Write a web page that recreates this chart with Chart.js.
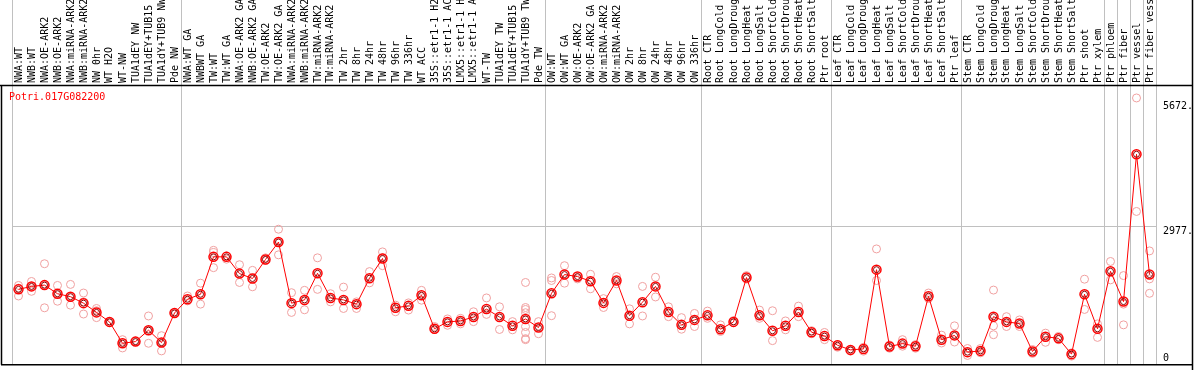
<!DOCTYPE html>
<html>
<head>
<meta charset="utf-8">
<script src="https://cdn.jsdelivr.net/npm/chart.js@4.4.1/dist/chart.umd.min.js"></script>
<style>
html,body{margin:0;padding:0;background:#fff;}
#wrap{width:1194px;height:370px;}
</style>
</head>
<body>
<div id="wrap"><canvas id="c" width="1194" height="370"></canvas></div>
<script>
const geneId = "Potri.017G082200";

const categories = [
  "NWA:WT","NWB:WT","NWA:OE-ARK2","NWB:OE-ARK2","NWA:miRNA-ARK2","NWB:miRNA-ARK2","NW 0hr","WT H2O","WT-NW","TUA1dEY NW","TUA1dEY+TUB15 NW","TUA1dY+TUB9 NW","Pde NW",
  "NWA:WT GA","NWBWT GA","TW:WT","TW:WT GA","NWA:OE-ARK2 GA","NWB:OE-ARK2 GA","TW:OE-ARK2","TW:OE-ARK2 GA","NWA:miRNA-ARK2 GA","NWB:miRNA-ARK2 GA","TW:miRNA-ARK2","TW:miRNA-ARK2 GA","TW 2hr","TW 8hr","TW 24hr","TW 48hr","TW 96hr","TW 336hr","WT ACC","35S::etr1-1 H2O","35S::etr1-1 ACC","LMX5::etr1-1 H2O","LMX5::etr1-1 ACC","WT-TW","TUA1dEY TW","TUA1dEY+TUB15 TW","TUA1dY+TUB9 TW","Pde TW",
  "OW:WT","OW:WT GA","OW:OE-ARK2","OW:OE-ARK2 GA","OW:miRNA-ARK2","OW:miRNA-ARK2 GA","OW 2hr","OW 8hr","OW 24hr","OW 48hr","OW 96hr","OW 336hr",
  "Root CTR","Root LongCold","Root LongDrought","Root LongHeat","Root LongSalt","Root ShortCold","Root ShortDrought","Root ShortHeat","Root ShortSalt","Ptr root",
  "Leaf CTR","Leaf LongCold","Leaf LongDrought","Leaf LongHeat","Leaf LongSalt","Leaf ShortCold","Leaf ShortDrought","Leaf ShortHeat","Leaf ShortSalt","Ptr leaf",
  "Stem CTR","Stem LongCold","Stem LongDrought","Stem LongHeat","Stem LongSalt","Stem ShortCold","Stem ShortDrought","Stem ShortHeat","Stem ShortSalt","Ptr shoot","Ptr xylem",
  "Ptr phloem","Ptr fiber","Ptr vessel","Ptr fiber vessel"
];

// index of first category of each group (last entry = total count)
const groupStarts = [0, 13, 41, 53, 63, 73, 84, 85, 86, 87, 88];

const meanValues = [
  1613,1677,1705,1519,1455,1315,1115,910,448,484,731,462,1102,
  1400,1507,2316,2316,1954,1848,2259,2636,1315,1385,1961,1428,1385,1294,1854,2280,1215,1257,1485,761,910,931,1016,1187,1016,825,974,788,
  1528,1933,1890,1790,1321,1805,1044,1336,1677,1123,846,953,
  1051,752,910,1869,1051,718,825,1123,688,603,
  405,305,326,2039,377,441,384,1464,526,618,
  256,283,1023,910,874,271,590,554,213,1507,761,
  2003,1349,4533,1933
];

const replicateValues = [
  [1698,1470,1640],[1784,1571,1680],[2167,1215,1705],[1698,1357,1519],[1720,1272,1455],[1534,1343,1080],[1200,1151,1002],[920,900],[526,347,460],[495,478],[1038,448,720],[612,469,283],[1100,1108],
  [1470,1364],[1747,1294],[2457,2408,2082],[2337,2265],[2146,1762],[2024,1669],[2295,2240],[2913,2359,2630],[1541,1115],[1592,1172],[2295,1613],[1519,1343],[1662,1200],[1343,1200],[1997,1754],[2423,2125,2300],[1272,1129],[1321,1166],[1592,1379],[810,746],[974,837],[987,867],[1129,916],[1428,1072],[1236,746],[916,739],[1762,1221,1179,1108,810,682,548,526],[916,654],
  [1860,1805,1044],[2125,1747],[1860,1839],[1939,1626],[1413,1221],[1890,1733],[1193,867],[1677,1038],[1875,1449],[1236,1023],[1002,752],[1093,810],
  [1144,987],[846,703],[938,895],[1911,1833],[1166,987],[1151,505],[931,739],[1251,1023],[654,720],[682,526],
  [420,362],[313,277],[362,277],[2487,1805],[411,341],[526,384],[420,341],[1534,1413],[624,454],[825,475],
  [335,185],[335,241],[1598,825,633],[1023,810],[952,810],[313,228],[667,469],[597,526],[241,170],[1833,1179],[867,575],
  [2216,1818],[1911,1294,846],[5750,3297],[2444,1839,1528]
];

const yTickValues = [0, 2977, 5672];
const yTickLabels = ["0", "2977.", "5672."];
const yMax = 6030;

const FONT = "DejaVu Sans Mono";

const meanPoints = meanValues.map((v, i) => ({x: i, y: v}));
const repPoints = [];
replicateValues.forEach((arr, i) => arr.forEach(v => repPoints.push({x: i, y: v})));

const decorPlugin = {
  id: 'decor',
  beforeDatasetsDraw(chart) {
    const {ctx, chartArea, scales} = chart;
    const xs = scales.x;
    ctx.save();
    // group separators (through label area)
    ctx.strokeStyle = '#c0c0c0';
    ctx.lineWidth = 1;
    groupStarts.forEach(b => {
      const px = Math.round(xs.getPixelForValue(b - 0.5)) + 0.5;
      ctx.beginPath();
      ctx.moveTo(px, 0);
      ctx.lineTo(px, chartArea.bottom);
      ctx.stroke();
    });
    // category labels (rotated, reading upward)
    ctx.fillStyle = '#000';
    ctx.font = '10px "' + FONT + '"';
    ctx.textAlign = 'left';
    ctx.textBaseline = 'middle';
    categories.forEach((lab, i) => {
      const px = Math.round(xs.getPixelForValue(i));
      ctx.save();
      ctx.translate(px, chartArea.top - 2);
      ctx.rotate(-Math.PI / 2);
      ctx.fillText(lab, 0, 0);
      ctx.restore();
    });
    ctx.restore();
  },
  afterDraw(chart) {
    const {ctx, chartArea, scales, width, height} = chart;
    const ys = scales.y;
    ctx.save();
    // frame
    ctx.strokeStyle = '#000';
    ctx.lineWidth = 1.5;
    ctx.beginPath();
    ctx.moveTo(0, chartArea.top + 0.5);
    ctx.lineTo(width - 1.5, chartArea.top + 0.5);
    ctx.moveTo(1.5, chartArea.top);
    ctx.lineTo(1.5, chartArea.bottom + 0.75);
    ctx.moveTo(1, chartArea.bottom + 0.75);
    ctx.lineTo(width - 1, chartArea.bottom + 0.75);
    ctx.moveTo(width - 1.5, 0);
    ctx.lineTo(width - 1.5, height);
    ctx.stroke();
    // y tick labels
    ctx.fillStyle = '#000';
    ctx.font = '10px "' + FONT + '"';
    ctx.textAlign = 'left';
    ctx.textBaseline = 'top';
    yTickValues.forEach((v, k) => {
      let py = ys.getPixelForValue(v);
      py = Math.min(py, chartArea.bottom - 11);
      ctx.fillText(yTickLabels[k], chartArea.right + 7, py);
    });
    // gene id
    ctx.fillStyle = '#ff0000';
    ctx.fillText(geneId, chartArea.left - 3, chartArea.top + 7);
    ctx.restore();
  }
};

new Chart(document.getElementById('c'), {
  type: 'scatter',
  data: {
    datasets: [
      {
        label: 'mean-inner',
        data: meanPoints,
        showLine: false,
        pointRadius: 3,
        pointBorderWidth: 1,
        pointBorderColor: '#8a0000',
        pointBackgroundColor: 'rgba(0,0,0,0)',
        order: 0
      },
      {
        label: 'mean',
        data: meanPoints,
        showLine: true,
        borderColor: '#ff0000',
        borderWidth: 1,
        pointRadius: 4.5,
        pointBorderWidth: 1.5,
        pointBorderColor: '#ff0000',
        pointBackgroundColor: 'rgba(0,0,0,0)',
        order: 1
      },
      {
        label: 'replicates',
        data: repPoints,
        showLine: false,
        pointRadius: 4,
        pointBorderWidth: 1,
        pointBorderColor: '#f0a0a0',
        pointBackgroundColor: 'rgba(0,0,0,0)',
        order: 2
      }
    ]
  },
  options: {
    responsive: false,
    animation: false,
    devicePixelRatio: 1,
    layout: {padding: {left: 12, right: 0, top: 0, bottom: 2}},
    plugins: {legend: {display: false}, tooltip: {enabled: false}, title: {display: false}},
    scales: {
      x: {
        type: 'linear',
        position: 'top',
        min: -0.5,
        max: categories.length - 0.5,
        grid: {display: false, drawTicks: false},
        border: {display: false},
        afterBuildTicks(scale) {
          scale.ticks = categories.map((_, i) => ({value: i}));
        },
        afterFit(scale) { scale.height = 85; },
        ticks: {display: false}
      },
      y: {
        type: 'linear',
        position: 'right',
        min: 0,
        max: yMax,
        afterBuildTicks(scale) {
          scale.ticks = yTickValues.map(v => ({value: v}));
        },
        afterFit(scale) { scale.width = 38; },
        grid: {
          drawTicks: false,
          color: (c) => (c.tick && c.tick.value === 2977) ? '#c0c0c0' : 'rgba(0,0,0,0)'
        },
        border: {display: false},
        ticks: {display: false}
      }
    }
  },
  plugins: [decorPlugin]
});
</script>
</body>
</html>
